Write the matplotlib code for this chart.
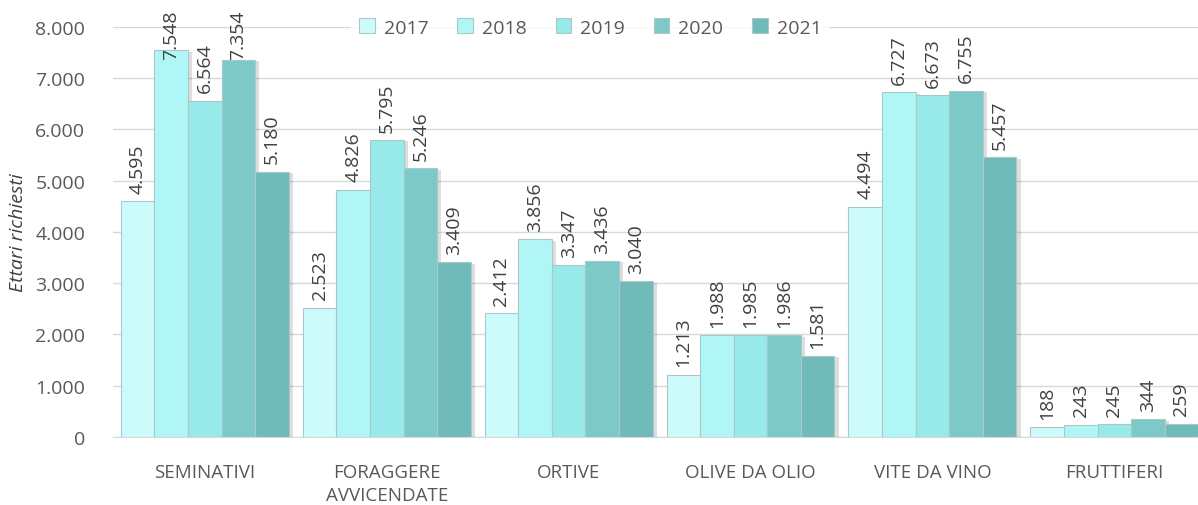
import numpy as np
import matplotlib.pyplot as plt
from matplotlib import patheffects as pe
from matplotlib.ticker import FuncFormatter

plt.rcParams['font.family'] = ['Open Sans', 'DejaVu Sans']

# data
categories = ['SEMINATIVI', 'FORAGGERE\nAVVICENDATE', 'ORTIVE', 'OLIVE DA OLIO', 'VITE DA VINO', 'FRUTTIFERI']
years = ['2017', '2018', '2019', '2020', '2021']
v2017 = [4595, 2523, 2412, 1213, 4494, 188]
v2018 = [7548, 4826, 3856, 1988, 6727, 243]
v2019 = [6564, 5795, 3347, 1985, 6673, 245]
v2020 = [7354, 5246, 3436, 1986, 6755, 344]
v2021 = [5180, 3409, 3040, 1581, 5457, 259]
series = [v2017, v2018, v2019, v2020, v2021]
colors = ['#cdfbfb', '#b1f6f6', '#98e9e9', '#7cc9c7', '#70bbb9']

fig = plt.figure(figsize=(11.98, 5.06), dpi=100)
ax = fig.add_axes([0.0943, 0.1344, 0.9057, 0.8103])

x = np.arange(len(categories))
w = 0.1846
fmt = lambda v: '{:,}'.format(v).replace(',', '.')

for i, (vals, c, yr) in enumerate(zip(series, colors, years)):
    pos = x + (i - 2) * w
    bars = ax.bar(pos, vals, width=w, color=c, edgecolor='#a9c9c9', linewidth=0.8, label=yr,
                  zorder=3)
    for b in bars:
        b.set_path_effects([pe.SimplePatchShadow(offset=(3, -1), shadow_rgbFace='#000000', alpha=0.13),
                            pe.Normal()])
    for p, v in zip(pos, vals):
        # labels pushed down when they would leave the chart area
        if v + 1300 > 8350:
            ax.text(p, 8350, fmt(v), rotation=90, ha='center', va='top', fontsize=14,
                    color='#404040', zorder=5, clip_on=False)
        else:
            ax.annotate(fmt(v), (p, v), xytext=(0, 6), textcoords='offset points', rotation=90,
                        ha='center', va='bottom', fontsize=14, color='#404040', zorder=5,
                        annotation_clip=False)

ax.set_xlim(-0.505, 5.46)
ax.set_ylim(0, 8000)
ax.set_yticks(np.arange(0, 8001, 1000))
ax.yaxis.set_major_formatter(FuncFormatter(lambda v, p: fmt(int(v))))
ax.set_xticks(x)
ax.set_xticklabels(categories, fontsize=13.5, color='#595959', linespacing=1.3)
ax.tick_params(axis='y', labelsize=14, labelcolor='#595959', length=0, pad=20)
ax.tick_params(axis='x', length=0, pad=19)
ax.grid(axis='y', color='#d9d9d9', linewidth=1, zorder=0)
for s in ['top', 'right', 'left']:
    ax.spines[s].set_visible(False)
ax.spines['bottom'].set_color('#d9d9d9')

ax.set_ylabel('Ettari richiesti', fontsize=14, style='italic', color='#404040', labelpad=6)

leg = ax.legend(loc='upper center', bbox_to_anchor=(0.44, 1.04), ncol=5, frameon=True, fontsize=14,
                handlelength=0.8, handleheight=0.8, handletextpad=0.45, columnspacing=1.5,
                borderaxespad=0, fancybox=False)
leg.get_frame().set_facecolor('white')
leg.get_frame().set_edgecolor('none')
for h in leg.legend_handles:
    h.set_path_effects([])
for t in leg.get_texts():
    t.set_color('#595959')
leg.set_zorder(6)

fig.savefig('out.png', dpi=100)
